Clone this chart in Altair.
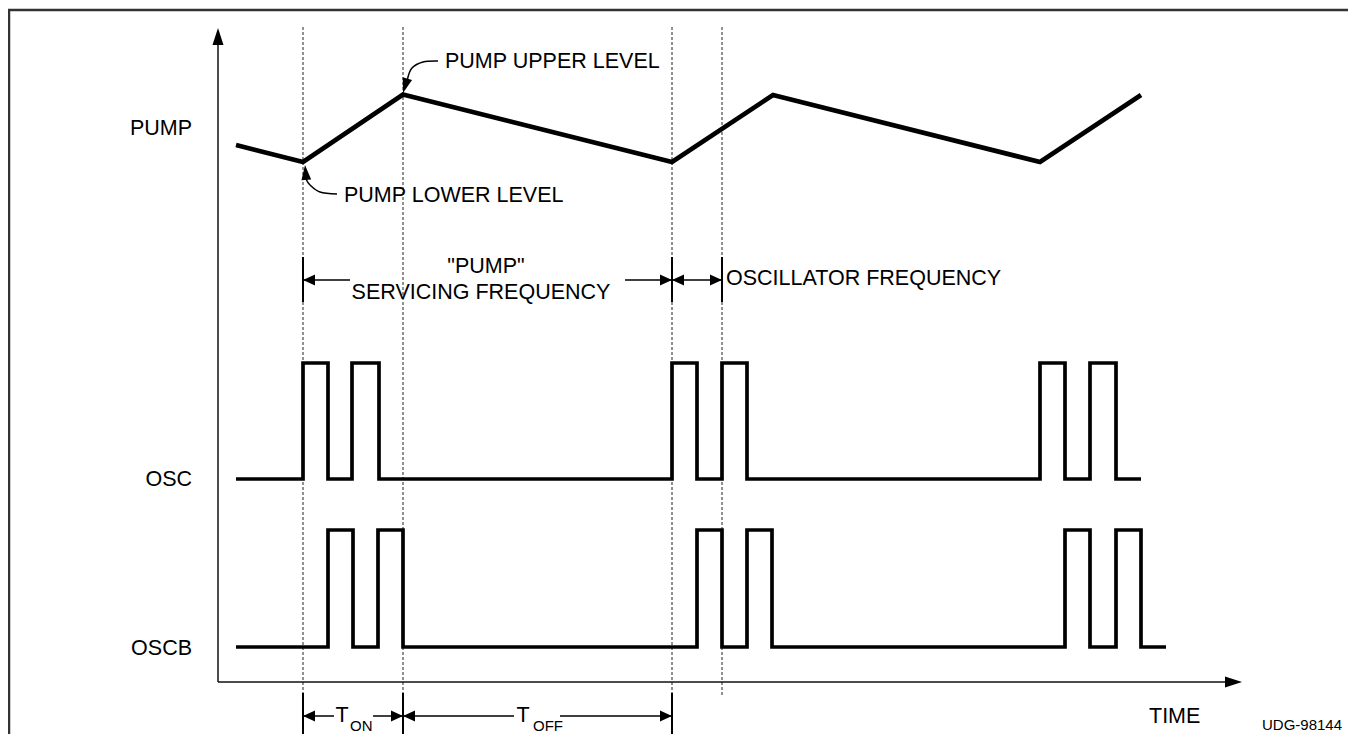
import altair as alt
import pandas as pd

# ---------------- data (time in diagram units, 0 = origin of TIME axis) ----------------
osc_t = [18, 85, 110, 134, 161, 454, 479, 504, 529, 822, 847, 872, 898, 923]
osc_lvl = [0, 1, 0, 1, 0, 1, 0, 1, 0, 1, 0, 1, 0, 0]
oscb_t = [18, 110, 135, 160, 185, 479, 504, 529, 554, 847, 872, 898, 923, 948]
oscb_lvl = [0, 1, 0, 1, 0, 1, 0, 1, 0, 1, 0, 1, 0, 0]
pump_t = [18, 85, 185, 454, 555, 822, 923]
pump_v = [537, 520, 587.5, 520, 587, 520, 587]
guide_t = [85, 185, 454, 504]
guide_end = [-11, -11, -11, -14]

# signal row baselines / amplitudes (diagram units)
OSC_LOW, OSC_AMP = 203, 116
OSCB_LOW, OSCB_AMP = 35, 117

# ---------------- scales ----------------
X_DOM = [-210, 1130]
Y_DOM = [-52, 674]
xs = alt.Scale(domain=X_DOM, nice=False, zero=False)
ys = alt.Scale(domain=Y_DOM, nice=False, zero=False)
X = alt.X("x:Q", scale=xs, axis=None)
Y = alt.Y("y:Q", scale=ys, axis=None)

# ---------------- signals ----------------
sig = pd.DataFrame(
    [{"s": "OSC", "x": t, "y": OSC_LOW + l * OSC_AMP, "i": k} for k, (t, l) in enumerate(zip(osc_t, osc_lvl))]
    + [{"s": "OSCB", "x": t, "y": OSCB_LOW + l * OSCB_AMP, "i": k} for k, (t, l) in enumerate(zip(oscb_t, oscb_lvl))]
)
signals = alt.Chart(sig).mark_line(
    interpolate="step-after", strokeWidth=3.7, color="black", strokeJoin="miter"
).encode(x=X, y=Y, detail="s:N", order="i:Q")

pump = pd.DataFrame({"x": pump_t, "y": pump_v, "i": list(range(len(pump_t)))})
pump_line = alt.Chart(pump).mark_line(strokeWidth=4.7, color="black", strokeJoin="miter").encode(
    x=X, y=Y, order="i:Q"
)

# ---------------- dotted timing guides ----------------
guides = pd.DataFrame({"x": guide_t, "y": [655] * 4, "y2": guide_end})
guide_rules = alt.Chart(guides).mark_rule(strokeDash=[3, 2], strokeWidth=1, color="#222").encode(
    x=X, y=Y, y2="y2:Q"
)

# ---------------- frame (left and top edges, as one open path) ----------------
frame = pd.DataFrame({"x": [-209, -209, 1130], "y": [-52, 672, 672], "i": [0, 1, 2]})
frame_path = alt.Chart(frame).mark_line(strokeWidth=2.5, color="#333", strokeJoin="miter").encode(
    x=X, y=Y, order="i:Q"
)

# ---------------- solid segments: axes, dimension lines ----------------
seg_rows = [
    # axes
    (0, 0, 0, 640, 1.5, "#111"),
    (0, 0, 1008, 0, 1.5, "#111"),
    # dimension ticks (upper)
    (85, 380, 85, 425, 2, "#000"),
    (454, 380, 454, 425, 2, "#000"),
    (504, 380, 504, 425, 2, "#000"),
    # dimension ticks (lower)
    (85, -55, 85, -11, 2, "#000"),
    (185, -55, 185, -11, 2, "#000"),
    (454, -55, 454, -11, 2, "#000"),
    # dimension lines
    (85, 402, 132, 402, 1.5, "#000"),
    (407, 402, 454, 402, 1.5, "#000"),
    (454, 402, 504, 402, 1.5, "#000"),
    (85, -34, 116, -34, 1.5, "#000"),
    (155, -34, 185, -34, 1.5, "#000"),
    (185, -34, 296, -34, 1.5, "#000"),
    (342, -34, 454, -34, 1.5, "#000"),
]
segs = pd.DataFrame(seg_rows, columns=["x", "y", "x2", "y2", "w", "c"])
seg_rules = alt.Chart(segs).mark_rule().encode(
    x=X, y=Y, x2="x2:Q", y2="y2:Q",
    strokeWidth=alt.StrokeWidth("w:Q", scale=None),
    color=alt.Color("c:N", scale=None),
)

# ---------------- curved leader lines ----------------
curves = pd.DataFrame(
    [("up", 220, 621, 0), ("up", 205, 620, 1), ("up", 194, 614, 2), ("up", 189.5, 603, 3),
     ("lo", 119, 488, 0), ("lo", 102, 490, 1), ("lo", 92, 497, 2), ("lo", 88, 503, 3)],
    columns=["k", "x", "y", "i"],
)
curve_lines = alt.Chart(curves).mark_line(interpolate="cardinal", strokeWidth=1.5, color="black").encode(
    x=X, y=Y, detail="k:N", order="i:Q"
)

# ---------------- arrowheads (tip position, direction) ----------------
big_heads = pd.DataFrame(
    [(0, 654, 0, 289), (1024, 0, 90, 289), (185, 589, 197, 225), (87, 517, 355, 225)],
    columns=["x", "y", "a", "s"],
)
small_heads = pd.DataFrame(
    [(85, 402, 270), (454, 402, 90), (454, 402, 270), (504, 402, 90),
     (85, -34, 270), (185, -34, 90), (185, -34, 270), (454, -34, 90)],
    columns=["x", "y", "a"],
)
big_arrow = alt.Chart(big_heads).mark_point(
    shape="M0,0L0.65,2L-0.65,2Z", filled=True, color="black", opacity=1, strokeWidth=0
).encode(x=X, y=Y, angle=alt.Angle("a:Q", scale=None), size=alt.Size("s:Q", scale=None))
small_arrow = alt.Chart(small_heads).mark_point(
    shape="M0,0L0.92,2L-0.92,2Z", filled=True, color="black", opacity=1, strokeWidth=0, size=144
).encode(x=X, y=Y, angle=alt.Angle("a:Q", scale=None))

# ---------------- text ----------------
FONT = "Liberation Sans"
txt_rows = [
    ("PUMP", -26, 547, "right", 21.5),
    ("OSC", -26, 196, "right", 21.5),
    ("OSCB", -26, 27.5, "right", 21.5),
    ("PUMP UPPER LEVEL", 227, 614, "left", 21.5),
    ("PUMP LOWER LEVEL", 126, 480.5, "left", 21.5),
    ('"PUMP"', 268, 409, "center", 21.5),
    ("SERVICING FREQUENCY", 263, 383.5, "center", 21.5),
    ("OSCILLATOR FREQUENCY", 508, 397, "left", 21.5),
    ("TIME", 931, -40.5, "left", 21.5),
    ("T", 124, -40, "center", 21.5),
    ("T", 305, -40, "center", 21.5),
    ("ON", 132, -49, "left", 15),
    ("OFF", 315, -49, "left", 15),
    ("UDG-98144", 1044, -48, "left", 15),
]
txt = pd.DataFrame(txt_rows, columns=["t", "x", "y", "al", "fs"])
text_layers = []
for (al, fs), g in txt.groupby(["al", "fs"]):
    text_layers.append(
        alt.Chart(g).mark_text(
            align=al, baseline="alphabetic", font=FONT, fontSize=fs, color="#000"
        ).encode(x=X, y=Y, text="t:N")
    )

chart = alt.layer(
    guide_rules, frame_path, seg_rules, curve_lines, pump_line, signals,
    big_arrow, small_arrow, *text_layers
).properties(
    width=1340, height=726, padding=0, autosize=alt.AutoSizeParams(type="none"), background="white"
).configure_view(strokeWidth=0, strokeOpacity=0, stroke="white", fill="white")

chart.save("out.html", embed_options={"renderer": "svg", "actions": False})
